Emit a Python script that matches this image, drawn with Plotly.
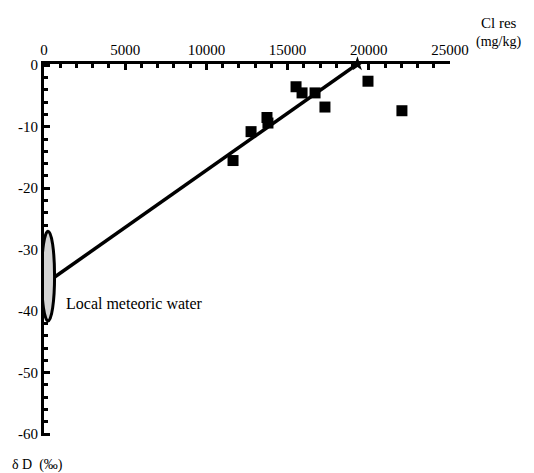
import plotly.graph_objects as go

# Data
cl_res = [11640, 12750, 13730, 13790, 15520, 15890, 16690, 17300, 19950, 22040]
delta_d = [-15.5, -10.8, -8.5, -9.4, -3.5, -4.5, -4.5, -6.8, -2.6, -7.4]

# Mixing line (from local meteoric water to end member)
line_x = [680, 19300]
line_y = [-34.4, 0.2]
end_x = [19300]
end_y = [0.2]

# Local meteoric water ellipse
ell_cx, ell_cy = 250, -34.3
ell_rx, ell_ry = 400, 7.3

x_ticks = [0, 5000, 10000, 15000, 20000, 25000]
x_tick_text = ["0", "5000", "10000", "15000", "20000", "25000"]
y_ticks = [0, -10, -20, -30, -40, -50, -60]
y_tick_text = ["0", "-10", "-20", "-30", "-40", "-50", "-60"]

font_family = "Liberation Serif"

fig = go.Figure()
fig.add_shape(type="circle", xref="x", yref="y",
              x0=ell_cx - ell_rx, x1=ell_cx + ell_rx,
              y0=ell_cy - ell_ry, y1=ell_cy + ell_ry,
              fillcolor="#d4d4d4", line=dict(color="black", width=3), layer="above")
fig.add_trace(go.Scatter(x=line_x, y=line_y, mode="lines",
                         line=dict(color="black", width=3.5), showlegend=False,
                         cliponaxis=False))
fig.add_trace(go.Scatter(x=cl_res, y=delta_d, mode="markers",
                         marker=dict(symbol="square", size=11, color="black"),
                         showlegend=False))
fig.add_trace(go.Scatter(x=end_x, y=end_y, mode="markers",
                         marker=dict(symbol="star", size=11, color="black"),
                         showlegend=False, cliponaxis=False))

fig.add_annotation(x=1250, y=-38.8, xref="x", yref="y", text="Local meteoric water",
                   showarrow=False, xanchor="left", yanchor="middle",
                   font=dict(family=font_family, size=16, color="black"))
fig.add_annotation(xref="paper", yref="paper", x=1.072, y=1.11, text="Cl res",
                   showarrow=False, xanchor="left", yanchor="middle",
                   font=dict(family=font_family, size=15, color="black"))
fig.add_annotation(xref="paper", yref="paper", x=1.06, y=1.059, text="(mg/kg)",
                   showarrow=False, xanchor="left", yanchor="middle",
                   font=dict(family=font_family, size=14, color="black"))
fig.add_annotation(xref="paper", yref="paper", x=-0.084, y=-0.078, text="δ D  (‰)",
                   showarrow=False, xanchor="left", yanchor="middle",
                   font=dict(family=font_family, size=14, color="black"))

fig.update_xaxes(range=[0, 25000], side="top", tickvals=x_ticks, ticktext=x_tick_text,
                 showgrid=False, zeroline=False, showline=True, linecolor="black",
                 linewidth=3, ticks="inside", ticklen=6, tickwidth=2.5, tickcolor="black",
                 minor=dict(dtick=1000, ticks="inside", ticklen=4, tickwidth=2.5, tickcolor="black"),
                 tickfont=dict(family=font_family, size=15, color="black"))
fig.update_yaxes(range=[-60.3, 0.2], tickvals=y_ticks, ticktext=y_tick_text,
                 showgrid=False, zeroline=False, showline=True, linecolor="black",
                 linewidth=3, ticks="inside", ticklen=6, tickwidth=2.5, tickcolor="black",
                 minor=dict(dtick=2, ticks="inside", ticklen=4, tickwidth=2.5, tickcolor="black"),
                 tickfont=dict(family=font_family, size=15, color="black"))

fig.update_layout(width=534, height=473, margin=dict(l=44, r=84, t=64, b=37),
                  plot_bgcolor="white", paper_bgcolor="white", showlegend=False)

fig.write_html("out.html")
